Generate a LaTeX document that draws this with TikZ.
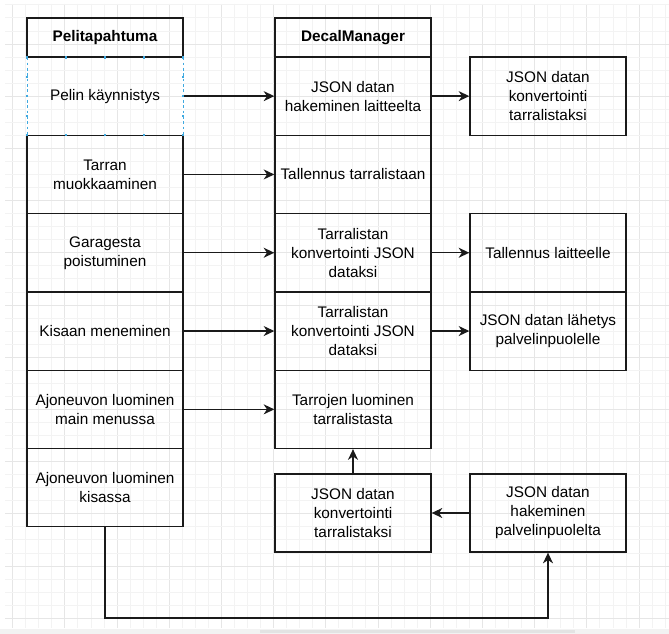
\documentclass[tikz,border=0pt]{standalone}
\usepackage{fontspec}
\setmainfont{Liberation Sans}
\usetikzlibrary{arrows.meta}
\definecolor{linec}{HTML}{1A1A1A}
\definecolor{gridminor}{HTML}{F3F3F3}
\definecolor{gridmajor}{HTML}{E6E6E6}
\definecolor{selc}{HTML}{3FA9E0}
\begin{document}
\begin{tikzpicture}[x=0.75pt,y=-0.75pt,
  cell/.style={draw=linec, line width=1pt, rectangle, minimum width=117pt, minimum height=58.7pt,
    align=center, inner sep=2pt, font=\fontsize{11.5}{14.25}\selectfont},
  head/.style={cell, minimum height=29.25pt, font=\fontsize{11.5}{14.25}\selectfont\bfseries},
  boxb/.style={cell, minimum height=58.5pt},
  conn/.style={draw=linec, line width=1pt, -{Stealth[length=8pt,width=7.5pt,inset=2.5pt]}},
  gmin/.style={draw=gridminor, line width=0.6pt},
  gmaj/.style={draw=gridmajor, line width=0.7pt},
]
\useasboundingbox (0,0) rectangle (669,634);
\fill[white] (0,0) rectangle (669,634);
% background grid
\begin{scope}
  \clip (5,4) rectangle (669,628);
  \foreach \k in {0,...,50} {
    \pgfmathsetmacro{\xx}{12.6+13.05*\k}
    \pgfmathtruncatemacro{\mm}{mod(\k,4)}
    \ifnum\mm=0 \draw[gmaj] (\xx,4) -- (\xx,628); \else \draw[gmin] (\xx,4) -- (\xx,628); \fi
  }
  \foreach \k in {0,...,47} {
    \pgfmathsetmacro{\yy}{4.85+13.05*\k}
    \pgfmathtruncatemacro{\mm}{mod(\k,4)}
    \ifnum\mm=3 \draw[gmaj] (5,\yy) -- (669,\yy); \else \draw[gmin] (5,\yy) -- (669,\yy); \fi
  }
\end{scope}
% scrollbar
\fill[gray!10] (0,629.5) rectangle (669,634);
\fill[gray!22] (260,630) rectangle (575,633.5);

% left column
\node[head] (lh) at (105,37.5) {Pelitapahtuma};
\node[cell] (l1) at (105,96.15) {Pelin käynnistys};
\node[cell] (l2) at (105,174.45) {Tarran\\muokkaaminen};
\node[cell] (l3) at (105,252.75) {Garagesta\\poistuminen};
\node[cell] (l4) at (105,331.05) {Kisaan meneminen};
\node[cell] (l5) at (105,409.35) {Ajoneuvon luominen\\main menussa};
\node[cell] (l6) at (105,487.65) {Ajoneuvon luominen\\kisassa};

% middle column
\node[head] (mh) at (353,37.5) {DecalManager};
\node[cell] (m1) at (353,96.15) {JSON datan\\hakeminen laitteelta};
\node[cell] (m2) at (353,174.45) {Tallennus tarralistaan};
\node[cell] (m3) at (353,252.75) {Tarralistan\\konvertointi JSON\\dataksi};
\node[cell] (m4) at (353,331.05) {Tarralistan\\konvertointi JSON\\dataksi};
\node[cell] (m5) at (353,409.35) {Tarrojen luominen\\tarralistasta};

% right boxes
\node[cell] (r1) at (548,96.15) {JSON datan\\konvertointi\\tarralistaksi};
\node[cell] (r3) at (548,252.75) {Tallennus laitteelle};
\node[cell] (r4) at (548,331.05) {JSON datan lähetys\\palvelinpuolelle};

% bottom boxes
\node[boxb] (b1) at (353,513) {JSON datan\\konvertointi\\tarralistaksi};
\node[boxb] (b2) at (548,513) {JSON datan\\hakeminen\\palvelinpuolelta};

% selection highlight on "Pelin käynnistys"
\draw[white, line width=1.4pt] (27,58.2) -- (27,134.3) (183,58.2) -- (183,134.3);
\draw[selc, line width=0.7pt, dash pattern=on 2pt off 2pt] (27,57.3) -- (27,135) (183,57.3) -- (183,135);
\foreach \px in {27,66,105,144,183} {
  \fill[selc] (\px-1.3,57.3-1.3) rectangle (\px+1.3,57.3+1.3);
  \fill[selc] (\px-1.3,135-1.3) rectangle (\px+1.3,135+1.3);
}
\foreach \py in {77,96.15,116} {
  \fill[selc] (27-1.3,\py-1.3) rectangle (27+1.3,\py+1.3);
  \fill[selc] (183-1.3,\py-1.3) rectangle (183+1.3,\py+1.3);
}

% connectors
\draw[conn] (l1.east) -- (m1.west);
\draw[conn] (l2.east) -- (m2.west);
\draw[conn] (l3.east) -- (m3.west);
\draw[conn] (l4.east) -- (m4.west);
\draw[conn] (l5.east) -- (m5.west);
\draw[conn] (m1.east) -- (r1.west);
\draw[conn] (m3.east) -- (r3.west);
\draw[conn] (m4.east) -- (r4.west);
\draw[conn] (b2.west) -- (b1.east);
\draw[conn] (b1.north) -- (m5.south);
\coordinate (turn) at (105,618);
\draw[conn] (l6.south) -- (turn) -| (b2.south);
\end{tikzpicture}
\end{document}
